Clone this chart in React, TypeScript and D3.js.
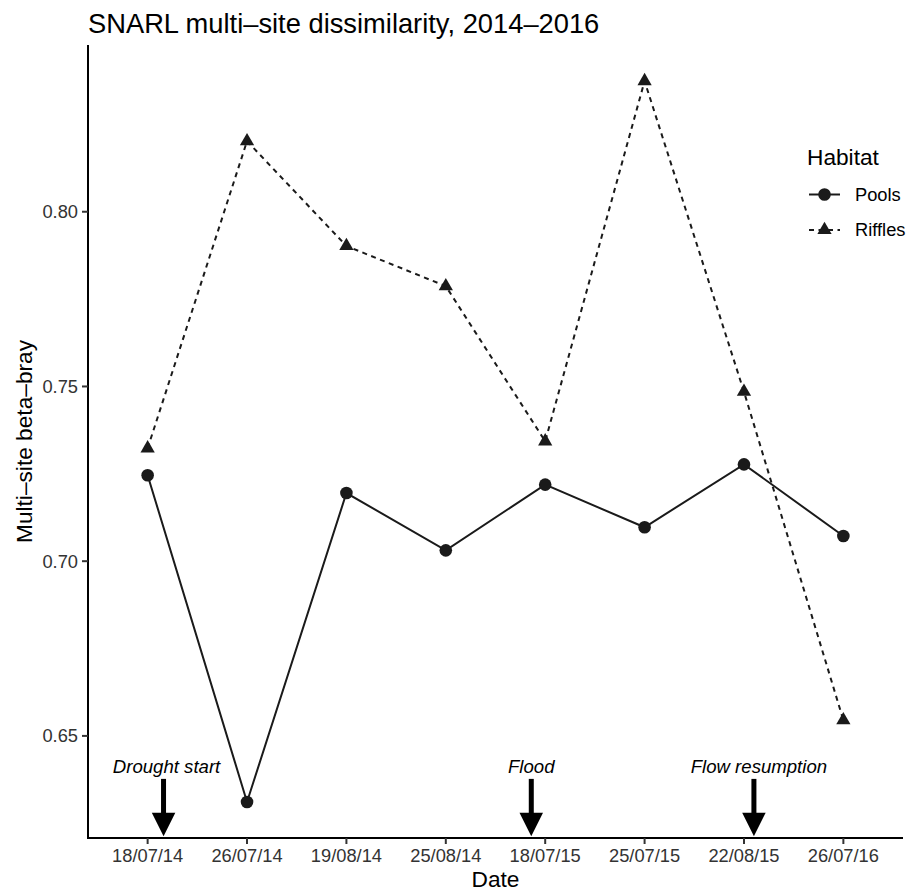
import React from "react";
import * as d3 from "d3";

const dates = ["18/07/14", "26/07/14", "19/08/14", "25/08/14", "18/07/15", "25/07/15", "22/08/15", "26/07/16"];
const pools = [0.7246, 0.6311, 0.7195, 0.7031, 0.7219, 0.7097, 0.7277, 0.7072];
const riffles = [0.7323, 0.8202, 0.7902, 0.7787, 0.7343, 0.8374, 0.7485, 0.6545];
const yTicks = [0.65, 0.7, 0.75, 0.8];
const eventLabels = ["Drought start", "Flood", "Flow resumption"];
const eventX = [1.16, 4.86, 7.1];
const eventLabelX = [1.19, 4.86, 7.15];
const eventTop = 0.6377;
const eventTip = 0.6213;
const eventLabelY = 0.6395;

const W = 917;
const H = 892;
const left = 88;
const right = 903;
const top = 45;
const bottom = 838;
const FONT = "'Liberation Sans', Arial, Helvetica, sans-serif";
const INK = "#1a1a1a";

export default function App() {
  const x = d3.scalePoint<string>().domain(dates).range([left, right]).padding(0.6);
  const xi = d3.scaleLinear().domain([1, dates.length]).range([x(dates[0])!, x(dates[dates.length - 1])!]);
  const all = [...pools, ...riffles];
  const lo = d3.min(all)!;
  const hi = d3.max(all)!;
  const pad = (hi - lo) * 0.05;
  const y = d3.scaleLinear().domain([lo - pad, hi + pad]).range([bottom, top]);

  const line = d3
    .line<number>()
    .x((_, i) => x(dates[i])!)
    .y((d) => y(d));

  const tri = d3.symbol().type(d3.symbolTriangle).size(88)();
  const dash = "5,4.5";

  const headW = 23.5;
  const headL = 23.5;
  const shaftW = 5;

  return (
    <svg
      width={W}
      height={H}
      style={{ position: "absolute", left: 0, top: 0, background: "#fff" }}
      fontFamily={FONT}
    >
      <rect x={0} y={0} width={W} height={H} fill="#fff" />
      <text x={left} y={33} fontSize={27.3} fill="#000">
        SNARL multi–site dissimilarity, 2014–2016
      </text>

      {/* lines */}
      <path d={line(pools)!} fill="none" stroke={INK} strokeWidth={2} />
      <path d={line(riffles)!} fill="none" stroke={INK} strokeWidth={2} strokeDasharray={dash} />

      {pools.map((v, i) => (
        <circle key={"p" + i} cx={x(dates[i])} cy={y(v)} r={6.3} fill={INK} />
      ))}
      {riffles.map((v, i) => (
        <path key={"r" + i} d={tri!} transform={`translate(${x(dates[i])},${y(v)})`} fill={INK} />
      ))}

      {/* event arrows */}
      {eventLabels.map((lab, i) => {
        const ax = xi(eventX[i]);
        const yt = y(eventTop);
        const yp = y(eventTip);
        const yb = yp - headL;
        return (
          <g key={"e" + i}>
            <text
              x={xi(eventLabelX[i])}
              y={y(eventLabelY)}
              fontSize={18.6}
              fontStyle="italic"
              textAnchor="middle"
              fill="#000"
            >
              {lab}
            </text>
            <rect x={ax - shaftW / 2} y={yt} width={shaftW} height={yb - yt + 1} fill="#000" />
            <polygon points={`${ax - headW / 2},${yb} ${ax + headW / 2},${yb} ${ax},${yp}`} fill="#000" />
          </g>
        );
      })}

      {/* axes */}
      <line x1={left} x2={left} y1={top} y2={bottom + 1} stroke="#000" strokeWidth={2} />
      <line x1={left - 1} x2={right} y1={bottom} y2={bottom} stroke="#000" strokeWidth={2} />
      {yTicks.map((t) => (
        <g key={"yt" + t}>
          <line x1={left - 6} x2={left} y1={y(t)} y2={y(t)} stroke="#333" strokeWidth={2} />
          <text x={left - 10} y={y(t)} dy="0.35em" textAnchor="end" fontSize={18.3} fill="#333">
            {t.toFixed(2)}
          </text>
        </g>
      ))}
      {dates.map((d) => (
        <g key={"xt" + d}>
          <line x1={x(d)} x2={x(d)} y1={bottom} y2={bottom + 6} stroke="#333" strokeWidth={2} />
          <text x={x(d)} y={862} textAnchor="middle" fontSize={18.3} fill="#333">
            {d}
          </text>
        </g>
      ))}
      <text x={(left + right) / 2} y={887} textAnchor="middle" fontSize={22.7} fill="#000">
        Date
      </text>
      <text
        transform={`translate(32,${(top + bottom) / 2}) rotate(-90)`}
        textAnchor="middle"
        fontSize={22.7}
        fill="#000"
      >
        Multi–site beta–bray
      </text>

      {/* legend */}
      <text x={807} y={165} fontSize={22.7} fill="#000">
        Habitat
      </text>
      <line x1={809} x2={840} y1={194.5} y2={194.5} stroke={INK} strokeWidth={2} />
      <circle cx={824.5} cy={194.5} r={6.3} fill={INK} />
      <text x={855} y={194.5} dy="0.35em" fontSize={18.3} fill="#000">
        Pools
      </text>
      <line x1={809} x2={840} y1={230} y2={230} stroke={INK} strokeWidth={2} strokeDasharray={dash} />
      <path d={tri!} transform="translate(824.5,230)" fill={INK} />
      <text x={855} y={230} dy="0.35em" fontSize={18.3} fill="#000">
        Riffles
      </text>
    </svg>
  );
}
